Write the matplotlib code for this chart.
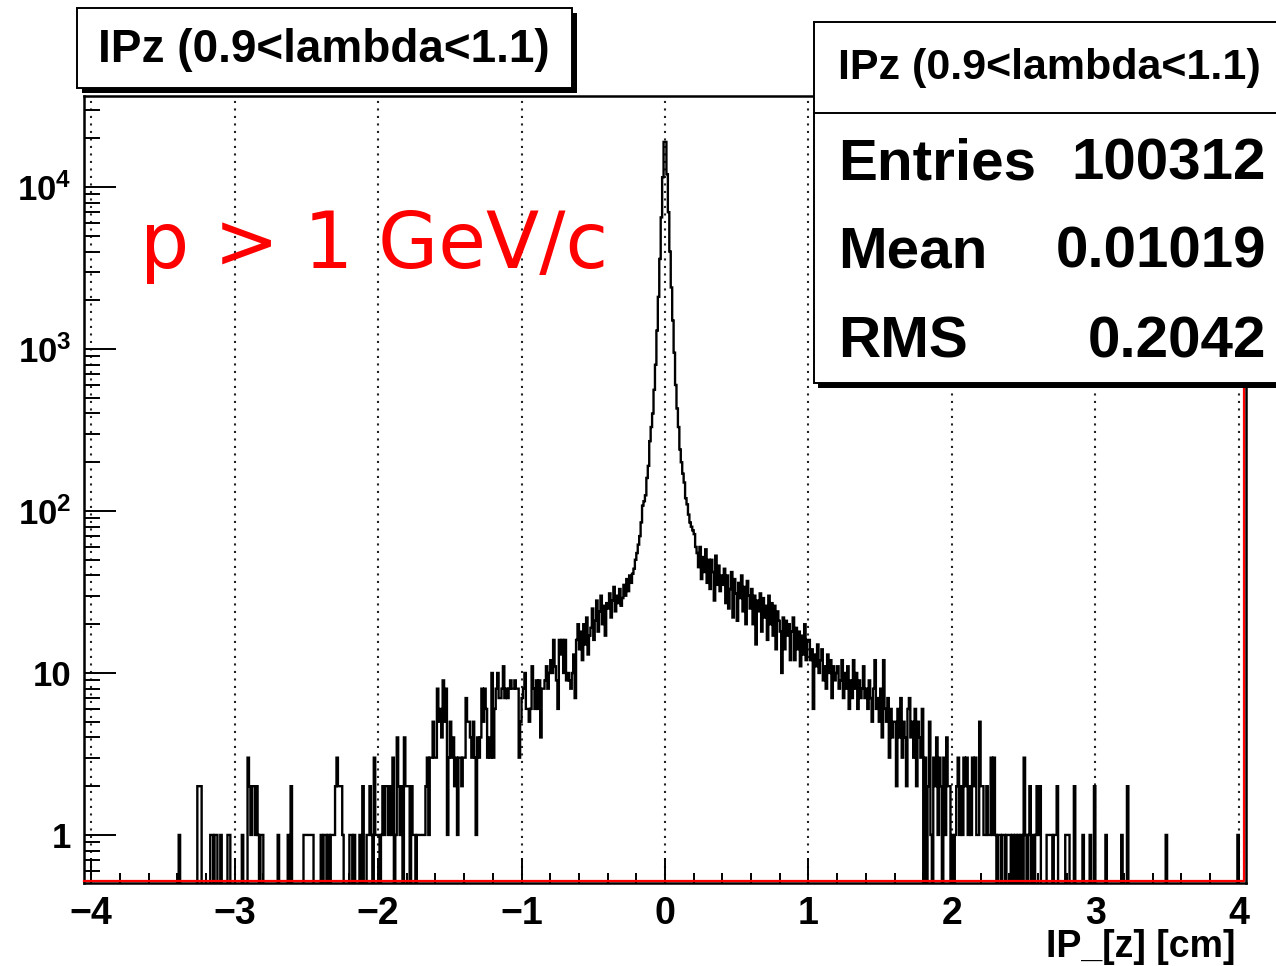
import numpy as np
import matplotlib
matplotlib.use("Agg")
import matplotlib.pyplot as plt
from matplotlib.patches import Rectangle
from matplotlib.lines import Line2D
from matplotlib.ticker import MultipleLocator, LogLocator, NullFormatter

plt.rcParams['font.family'] = ['Liberation Sans', 'DejaVu Sans']
plt.rcParams['font.weight'] = 'bold'
plt.rcParams['mathtext.fontset'] = 'custom'
plt.rcParams['mathtext.rm'] = 'Liberation Sans:bold'
plt.rcParams['mathtext.it'] = 'Liberation Sans:bold'
plt.rcParams['mathtext.bf'] = 'Liberation Sans:bold'

# histogram binning: 810 bins of 0.01 cm
x_low, x_high, n_bins = -4.05, 4.05, 810

# bin contents, one row = 0.2 cm (20 bins)
counts_left = [
    0, 0, 0, 0, 0,                                                   # -4.05 .. -4.0
    0, 0, 0, 0, 0, 0, 0, 0, 0, 0, 0, 0, 0, 0, 0, 0, 0, 0, 0, 0,     # -4.0
    0, 0, 0, 0, 0, 0, 0, 0, 0, 0, 0, 0, 0, 0, 0, 0, 0, 0, 0, 0,     # -3.8
    0, 0, 0, 0, 0, 0, 0, 0, 0, 0, 0, 0, 0, 0, 0, 0, 0, 0, 0, 0,     # -3.6
    0, 1, 0, 0, 0, 0, 0, 0, 0, 0, 0, 0, 0, 0, 2, 2, 2, 0, 0, 0,     # -3.4
    0, 0, 0, 1, 1, 0, 1, 1, 0, 0, 1, 0, 0, 0, 0, 1, 1, 0, 0, 0,     # -3.2
    0, 0, 0, 0, 0, 1, 0, 0, 0, 3, 2, 1, 2, 2, 1, 2, 1, 0, 1, 1,     # -3.0
    0, 0, 0, 0, 0, 0, 0, 0, 0, 0, 1, 0, 0, 0, 0, 0, 0, 1, 0, 2,     # -2.8
    0, 0, 0, 0, 0, 0, 0, 0, 1, 1, 1, 1, 1, 1, 1, 0, 0, 0, 0, 0,     # -2.6
    1, 0, 1, 1, 0, 1, 0, 1, 1, 1, 2, 3, 2, 2, 2, 1, 0, 0, 0, 0,     # -2.4
    1, 1, 0, 1, 0, 0, 0, 1, 0, 2, 0, 0, 1, 1, 2, 1, 0, 3, 1, 1,     # -2.2
    1, 0, 1, 2, 1, 2, 2, 1, 2, 1, 3, 0, 1, 4, 2, 1, 2, 0, 4, 2,     # -2.0
    2, 2, 0, 2, 1, 1, 0, 1, 1, 1, 1, 1, 1, 2, 3, 1, 3, 3, 5, 3,     # -1.8
    3, 8, 5, 6, 4, 9, 5, 8, 1, 3, 5, 3, 4, 2, 3, 1, 3, 3, 2, 3,     # -1.6
    3, 7, 5, 5, 4, 3, 5, 3, 1, 4, 3, 4, 8, 5, 8, 6, 3, 4, 3, 10,    # -1.4
    3, 6, 8, 10, 7, 7, 8, 11, 7, 8, 7, 8, 9, 8, 8, 9, 8, 8, 3, 5,   # -1.2
    7, 8, 10, 6, 6, 5, 6, 11, 8, 6, 9, 6, 9, 4, 8, 8, 9, 11, 8, 10,  # -1.0
    12, 10, 16, 11, 9, 6, 16, 13, 16, 10, 16, 9, 10, 9, 8, 10, 13, 7, 16, 20,   # -0.8
    14, 18, 12, 20, 15, 22, 13, 17, 19, 25, 16, 21, 28, 18, 24, 30, 20, 26, 17, 27,  # -0.6
    25, 31, 22, 28, 34, 24, 30, 27, 33, 26, 29, 35, 30, 38, 32, 40, 36, 41, 44, 50,  # -0.4
]

counts_peak = [
    55, 62, 70, 85, 108, 115, 125, 160, 190, 270,
    330, 400, 560, 800, 1300, 2100, 3600, 6500, 11500, 19000,      # -0.2 .. 0
    19000, 12000, 7000, 4000, 2400, 1500, 950, 600, 430, 330,
    240, 200, 170, 150, 120, 110, 95, 85, 80, 76,                  # 0 .. 0.2
]

counts_right = [
    72, 60, 55, 45, 60, 38, 52, 42, 58, 36, 50, 33, 50, 42, 28, 53, 35, 46, 32, 40,  # 0.2
    35, 44, 27, 40, 25, 33, 42, 22, 38, 31, 21, 36, 29, 40, 24, 34, 20, 37, 30, 25,  # 0.4
    33, 20, 30, 15, 28, 24, 31, 18, 29, 22, 26, 16, 30, 20, 27, 17, 26, 14, 24, 21,  # 0.6
    18, 10, 22, 14, 21, 17, 20, 12, 18, 22, 12, 19, 14, 18, 11, 17, 13, 20, 12, 16,  # 0.8
    16, 12, 14, 6, 13, 11, 15, 10, 12, 14, 9, 11, 8, 13, 10, 12, 7, 11, 9, 10,       # 1.0
    11, 8, 9, 12, 7, 10, 8, 11, 6, 9, 7, 12, 8, 10, 6, 9, 7, 8, 11, 7,              # 1.2
    8, 6, 9, 7, 5, 8, 12, 6, 7, 5, 8, 4, 12, 6, 5, 7, 3, 6, 4, 5,                   # 1.4
    5, 2, 6, 4, 7, 3, 5, 4, 2, 6, 7, 4, 5, 3, 6, 2, 5, 4, 3, 6,                     # 1.6
    0, 3, 0, 2, 5, 1, 0, 3, 2, 4, 1, 3, 2, 0, 3, 1, 4, 2, 2, 0,                     # 1.8
    1, 0, 1, 2, 3, 1, 2, 1, 3, 2, 3, 1, 2, 1, 3, 2, 3, 1, 1, 5,                     # 2.0
    2, 2, 1, 1, 2, 1, 1, 3, 1, 3, 1, 0, 1, 1, 0, 1, 1, 0, 1, 1,                     # 2.2
    1, 0, 1, 0, 1, 0, 1, 0, 1, 0, 3, 1, 0, 1, 2, 0, 1, 0, 1, 2,                     # 2.4
    1, 2, 0, 0, 0, 0, 1, 1, 1, 1, 0, 1, 1, 2, 0, 0, 0, 0, 0, 1,                     # 2.6
    1, 1, 0, 0, 0, 2, 0, 0, 0, 0, 0, 1, 0, 0, 0, 0, 1, 0, 0, 2,                     # 2.8
    0, 0, 0, 0, 0, 0, 0, 1, 0, 0, 0, 0, 0, 0, 0, 0, 0, 0, 1, 0,                     # 3.0
    0, 0, 2, 0, 0, 0, 0, 0, 0, 0, 0, 0, 0, 0, 0, 0, 0, 0, 0, 0,                     # 3.2
    0, 0, 0, 0, 0, 0, 0, 0, 0, 1, 0, 0, 0, 0, 0, 0, 0, 0, 0, 0,                     # 3.4
    0, 0, 0, 0, 0, 0, 0, 0, 0, 0, 0, 0, 0, 0, 0, 0, 0, 0, 0, 0,                     # 3.6
    0, 0, 0, 0, 0, 0, 0, 0, 0, 0, 0, 0, 0, 0, 0, 0, 0, 0, 0, 1,                     # 3.8
    0, 0, 0, 0, 0,                                                                   # 4.0 .. 4.05
]

hist_title = "IPz (0.9<lambda<1.1)"
stat_names = ["Entries", "Mean", "RMS"]
stat_values = ["100312", "0.01019", "0.2042"]

x_ticks = [-4, -3, -2, -1, 0, 1, 2, 3, 4]
x_ticklabels = ["\u22124", "\u22123", "\u22122", "\u22121", "0", "1", "2", "3", "4"]
y_ticks = [1, 10, 100, 1000, 10000]
y_ticklabels = ["1", "10", "$10^{2}$", "$10^{3}$", "$10^{4}$"]

# =========================================================
# FIGURE
# =========================================================
W, H = 1276, 966
fig = plt.figure(figsize=(W / 100, H / 100), dpi=100)
fig.patch.set_facecolor("white")


def fx(px):
    return px / W


def fy(py):
    return 1 - py / H


ax = fig.add_axes([fx(84), fy(883), fx(1246) - fx(84), (883 - 96) / H])

counts = np.array(counts_left + counts_peak + counts_right, dtype=float)
edges = np.linspace(x_low, x_high, n_bins + 1)
# empty bins drop to the frame bottom like ROOT does
shown = np.where(counts > 0, counts, 1e-3)
ax.stairs(shown, edges, baseline=None, color="black", lw=1.7, zorder=2)

ax.set_yscale("log")
ax.set_xlim(x_low, x_high)
ax.set_ylim(0.505, 36500)

ax.set_xticks(x_ticks)
ax.set_xticklabels(x_ticklabels)
ax.xaxis.set_minor_locator(MultipleLocator(0.2))
ax.set_yticks(y_ticks)
ax.set_yticklabels(y_ticklabels)
ax.yaxis.set_minor_locator(LogLocator(base=10, subs=range(2, 10), numticks=20))
ax.yaxis.set_minor_formatter(NullFormatter())

ax.tick_params(axis="x", which="major", direction="in", length=18, width=1.4,
               pad=9, labelsize=27, top=False)
ax.tick_params(axis="x", which="minor", direction="in", length=7, width=1.4, top=False)
ax.tick_params(axis="y", which="major", direction="in", length=23, width=1.4,
               pad=9, labelsize=25, right=False)
ax.tick_params(axis="y", which="minor", direction="in", length=11.5, width=1.4, right=False)

ax.grid(axis="x", which="major", color="#222222", linestyle=(0, (1, 2.6)), lw=1.5)
for sp in ax.spines.values():
    sp.set_linewidth(1.8)

# red outline of the second (empty) histogram along bottom and right edge
ax.add_line(Line2D([0, 0.9985, 0.9985], [0.003, 0.003, 1.0], transform=ax.transAxes,
                   color="red", lw=1.6, clip_on=False, zorder=3))

# x axis title
fig.text(fx(1236), fy(947), "IP_[z] [cm]", ha="right", va="center", fontsize=27)

# title box with shadow
fig.add_artist(Rectangle((fx(82), fy(93)), (572 - 77) / W, (88 - 8) / H,
                         transform=fig.transFigure, fc="black", ec="none", zorder=5))
fig.add_artist(Rectangle((fx(77), fy(88)), (572 - 77) / W, (88 - 8) / H,
                         transform=fig.transFigure, fc="white", ec="black", lw=1.4, zorder=6))
fig.text(fx(324), fy(50), hist_title, ha="center", va="center", fontsize=33, zorder=7)

# statistics box with shadow
fig.add_artist(Rectangle((fx(818), fy(388)), (1300 - 814) / W, (383 - 22) / H,
                         transform=fig.transFigure, fc="black", ec="none", zorder=5))
fig.add_artist(Rectangle((fx(814), fy(383)), (1300 - 814) / W, (383 - 22) / H,
                         transform=fig.transFigure, fc="white", ec="black", lw=1.4, zorder=6))
fig.add_artist(Line2D([fx(814), 1.0], [fy(113), fy(113)], transform=fig.transFigure,
                      color="black", lw=1.4, zorder=7))
fig.text(fx(838), fy(68), hist_title, ha="left", va="center", fontsize=31, zorder=8)
row_y = [164, 253, 343]
for name, val, yy in zip(stat_names, stat_values, row_y):
    fig.text(fx(838), fy(yy), name, ha="left", va="center", fontsize=42, zorder=8)
    fig.text(fx(1266), fy(yy), val, ha="right", va="center", fontsize=42, zorder=8)

# momentum cut label
fig.text(fx(140), fy(268), "p > 1 GeV/c", color="red", fontsize=56,
         family="DejaVu Sans", weight="normal", va="baseline", ha="left", zorder=8)

fig.savefig("out.png", dpi=100)
